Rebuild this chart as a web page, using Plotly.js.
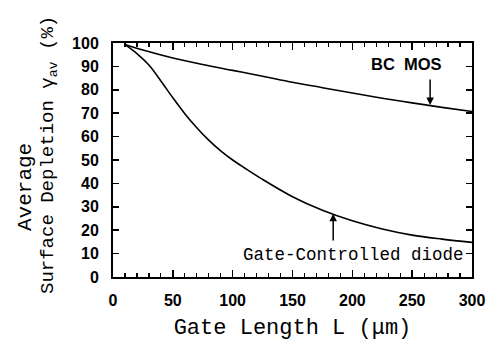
<!DOCTYPE html>
<html><head><meta charset="utf-8">
<script src="https://cdn.plot.ly/plotly-3.0.1.min.js"></script>
<style>html,body{margin:0;padding:0;background:#fff}#chart{width:499px;height:347px}</style>
</head><body><div id="chart"></div>
<script>
const bcX = [10, 25, 50, 75, 100, 125, 150, 175, 200, 225, 250, 275, 300];
const bcY = [99.4, 97, 93.6, 90.8, 88.3, 85.8, 83.2, 80.9, 78.6, 76.4, 74.4, 72.5, 70.7];
const gcdX = [10, 20, 30, 40, 50, 60, 70, 80, 90, 100, 110, 125, 150, 175, 200, 225, 250, 275, 300];
const gcdY = [99.3, 95.5, 90.6, 83.8, 76.6, 69.8, 63.8, 58.5, 53.9, 50, 46.6, 41.7, 34.3, 28.5, 24.0, 20.5, 17.9, 16.2, 14.8];
const labelBC = "BC&nbsp;&nbsp;MOS";
const labelGCD = "Gate-Controlled diode";
const xTitle = "Gate Length L (\u03bcm)";
const yTitle1 = "Average";
const yTitle2 = "Surface Depletion \u03b3<sub>av</sub> (%)";

const line = {color: '#000', width: 1.6, shape: 'spline', smoothing: 1};
const traces = [
  {x: bcX, y: bcY, mode: 'lines', line: line, hoverinfo: 'skip'},
  {x: gcdX, y: gcdY, mode: 'lines', line: line, hoverinfo: 'skip'}
];
const axisCommon = {
  showline: true, linecolor: '#000', linewidth: 2, mirror: 'ticks',
  ticks: 'inside', ticklen: 7, tickwidth: 1.5, tickcolor: '#000',
  showgrid: false, zeroline: false,
  tickfont: {family: 'Liberation Sans, Arial', size: 16, color: '#000', weight: 'bold'}
};
const minorX = {dtick: 10, ticks: 'inside', ticklen: 4, tickwidth: 1.2, tickcolor: '#000'};
const layout = {
  width: 499, height: 347,
  margin: {l: 113, r: 27, t: 43, b: 70},
  paper_bgcolor: '#fff', plot_bgcolor: '#fff',
  showlegend: false,
  xaxis: Object.assign({}, axisCommon, {
    range: [0, 300], tickvals: [0, 50, 100, 150, 200, 250, 300],
    minor: minorX,
    ticklabelstandoff: 8,
    title: {text: xTitle, font: {family: 'Liberation Mono, DejaVu Sans Mono', size: 22, color: '#000'}, standoff: 10}
  }),
  xaxis2: {
    overlaying: 'x', side: 'top', anchor: 'y', matches: 'x', range: [0, 300],
    showline: false, showgrid: false, zeroline: false, showticklabels: false,
    ticks: 'inside', ticklen: 7, tickwidth: 1.5, tickcolor: '#000',
    tickvals: [0, 50, 100, 150, 200, 250, 300], minor: minorX
  },
  yaxis: Object.assign({}, axisCommon, {
    range: [0, 100], tickvals: [0,10,20,30,40,50,60,70,80,90,100],
    ticklen: 6, ticklabelstandoff: 9
  }),
  annotations: [
    {x: 245, y: 91, xref: 'x', yref: 'y', text: labelBC, showarrow: false,
     font: {family: 'Liberation Sans, Arial', size: 16.5, color: '#000', weight: 'bold'}},
    {x: 265, y: 73.5, xref: 'x', yref: 'y', ax: 265, ay: 85, axref: 'x', ayref: 'y',
     text: '', showarrow: true, arrowhead: 2, arrowsize: 1, arrowwidth: 1.5, arrowcolor: '#000'},
    {x: 200.7, y: 9.6, xref: 'x', yref: 'y', text: labelGCD, showarrow: false,
     font: {family: 'Liberation Mono, DejaVu Sans Mono', size: 17.5, color: '#000'}},
    {x: 184, y: 27, xref: 'x', yref: 'y', ax: 184, ay: 15, axref: 'x', ayref: 'y',
     text: '', showarrow: true, arrowhead: 2, arrowsize: 1, arrowwidth: 1.5, arrowcolor: '#000'},
    {x: 0, y: 0, xref: 'paper', yref: 'paper', text: yTitle1, showarrow: false, textangle: -90,
     xanchor: 'center', yanchor: 'middle',
     font: {family: 'Liberation Mono, DejaVu Sans Mono', size: 21, color: '#000'}},
    {x: 0, y: 0, xref: 'paper', yref: 'paper', text: yTitle2, showarrow: false, textangle: -90,
     xanchor: 'center', yanchor: 'middle',
     font: {family: 'Liberation Mono, DejaVu Sans Mono', size: 19, color: '#000'}}
  ]
};
// place the two y-title lines (pixel centres) in paper coordinates
const pw = 499 - 113 - 27, ph = 347 - 43 - 70;
layout.annotations[4].x = (25 - 113) / pw; layout.annotations[4].y = (347 - 187 - 70) / ph;
layout.annotations[5].x = (49 - 113) / pw; layout.annotations[5].y = (347 - 155 - 70) / ph;
Plotly.newPlot('chart', traces, layout, {staticPlot: true});
</script></body></html>
